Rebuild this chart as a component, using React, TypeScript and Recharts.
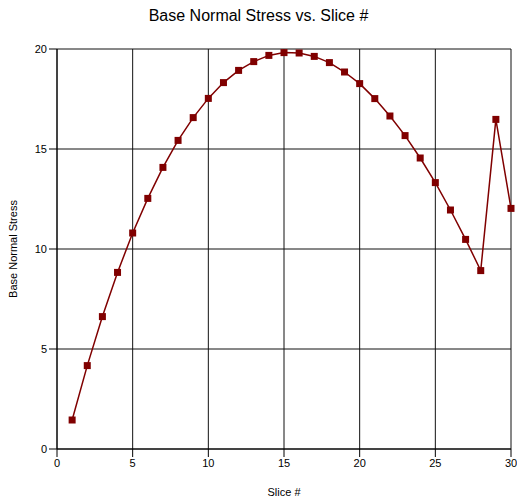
import React from 'react';
import { LineChart, Line, XAxis, YAxis, CartesianGrid, Label } from 'recharts';

const slices = [1,2,3,4,5,6,7,8,9,10,11,12,13,14,15,16,17,18,19,20,21,22,23,24,25,26,27,28,29,30];
const stress = [1.45,4.17,6.62,8.83,10.8,12.53,14.08,15.43,16.57,17.53,18.32,18.93,19.37,19.68,19.82,19.8,19.63,19.32,18.85,18.27,17.52,16.65,15.67,14.55,13.32,11.95,10.48,8.92,16.48,12.03];
const xTicks = [0,5,10,15,20,25,30];
const yTicks = [0,5,10,15,20];

const data = slices.map((s, i) => ({ slice: s, stress: stress[i] }));

const SquareDot = (props: any) => {
  const { cx, cy } = props;
  if (cx == null || cy == null) return null;
  return <rect x={cx - 3.5} y={cy - 3.5} width={7} height={7} fill="#800000" />;
};

const font = '"Liberation Sans", Arial, sans-serif';

export default function App() {
  return (
    <div style={{ position: 'absolute', left: 0, top: 0, width: 517, height: 501, background: '#fff', fontFamily: font }}>
      <div style={{ position: 'absolute', left: 0, top: 7, width: 517, textAlign: 'center', fontSize: 16, color: '#000' }}>
        Base Normal Stress vs. Slice #
      </div>
      <LineChart width={517} height={501} data={data} margin={{ top: 49, right: 6, bottom: 0, left: 0 }}>
        <CartesianGrid stroke="#111" strokeWidth={1} horizontal vertical />
        <XAxis
          dataKey="slice"
          type="number"
          domain={[0, 30]}
          ticks={xTicks}
          height={52}
          tickSize={8}
          tickMargin={2}
          stroke="#000"
          tick={{ fill: '#000', fontSize: 11, fontFamily: font }}
          allowDecimals={false}
        >
          <Label value="Slice #" position="insideBottom" offset={5} style={{ fill: '#000', fontSize: 11, fontFamily: font }} />
        </XAxis>
        <YAxis
          type="number"
          domain={[0, 20]}
          ticks={yTicks}
          width={57}
          tickSize={8}
          tickMargin={2}
          stroke="#000"
          tick={{ fill: '#000', fontSize: 11, fontFamily: font }}
        >
          <Label value="Base Normal Stress" angle={-90} position="insideLeft" offset={13} style={{ textAnchor: 'middle', fill: '#000', fontSize: 11, fontFamily: font }} />
        </YAxis>
        <Line
          type="linear"
          dataKey="stress"
          stroke="#800000"
          strokeWidth={1.5}
          dot={<SquareDot />}
          activeDot={false}
          isAnimationActive={false}
        />
      </LineChart>
    </div>
  );
}
